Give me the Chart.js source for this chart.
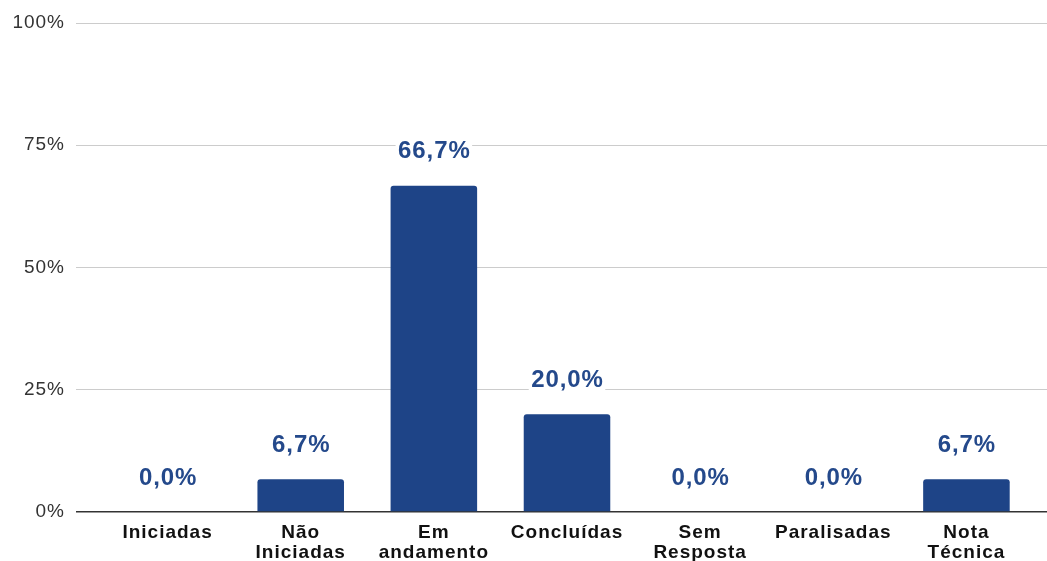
<!DOCTYPE html>
<html>
<head>
<meta charset="utf-8">
<script src="https://cdn.jsdelivr.net/npm/chart.js@4/dist/chart.umd.min.js"></script>
<style>
  html, body { margin: 0; padding: 0; background: #fff; }
  #wrap { width: 1047px; height: 561px; }
</style>
</head>
<body>
<div id="wrap"><canvas id="chart" width="1047" height="561"></canvas></div>
<script>
const categories = [
    ["Iniciadas"],
    ["Não", "Iniciadas"],
    ["Em", "andamento"],
    ["Concluídas"],
    ["Sem", "Resposta"],
    ["Paralisadas"],
    ["Nota", "Técnica"]
];
const percentages = [0.0, 6.7, 66.7, 20.0, 0.0, 0.0, 6.7];
const yTicks = [0, 25, 50, 75, 100];

const barColor = "#1e4487";
const labelColor = "#24498b";
const fontFamily = "'Liberation Sans', Arial, sans-serif";

// the reference text is set a bit wide, so spread the letters slightly
const spacing = {
    id: "spacing",
    beforeLayout(chart) { chart.ctx.letterSpacing = "1px"; },
    beforeDraw(chart) { chart.ctx.letterSpacing = "1px"; }
};

// value labels above each bar, with a white box so gridlines are hidden behind
const valueLabels = {
    id: "valueLabels",
    afterDatasetsDraw(chart) {
        const ctx = chart.ctx;
        const meta = chart.getDatasetMeta(0);
        ctx.save();
        ctx.letterSpacing = "0.9px";
        ctx.font = "bold 24px " + fontFamily;
        ctx.textAlign = "center";
        ctx.textBaseline = "middle";
        meta.data.forEach((bar, i) => {
            const text = percentages[i].toFixed(1).replace(".", ",") + "%";
            const y = bar.y - 34;
            const w = ctx.measureText(text).width;
            ctx.fillStyle = "#fff";
            ctx.fillRect(bar.x - w / 2 - 2, y - 12, w + 4, 24);
            ctx.fillStyle = labelColor;
            ctx.fillText(text, bar.x + 0.5, y);
        });
        ctx.restore();
    }
};

const ctx = document.getElementById("chart").getContext("2d");

const gridColor = c => (c.tick && c.tick.value === 0) ? "#333" : "#cccccc";
const gridWidth = c => (c.tick && c.tick.value === 0) ? 1.5 : 1;

new Chart(ctx, {
    type: "bar",
    data: {
        labels: categories,
        datasets: [{
            data: percentages,
            backgroundColor: barColor,
            barPercentage: 0.65,
            categoryPercentage: 1,
            borderRadius: { topLeft: 3, topRight: 3 },
            borderSkipped: "bottom"
        }]
    },
    options: {
        responsive: false,
        animation: false,
        layout: { padding: { top: 23, left: 0, right: 0, bottom: 0 } },
        plugins: {
            legend: { display: false },
            tooltip: { enabled: false }
        },
        scales: {
            x: {
                grid: { display: false },
                border: { display: false },
                ticks: {
                    color: "#111",
                    font: { family: fontFamily, size: 19, weight: "bold", lineHeight: 1.06 },
                    maxRotation: 0,
                    autoSkip: false,
                    padding: 3
                },
                afterFit(scale) { scale.height = 49; }
            },
            y: {
                min: 0,
                max: 100,
                afterBuildTicks(scale) { scale.ticks = yTicks.map(v => ({ value: v })); },
                grid: {
                    color: gridColor,
                    lineWidth: gridWidth,
                    tickLength: 25,
                    drawTicks: true
                },
                border: { display: false },
                ticks: {
                    color: "#333",
                    font: { family: fontFamily, size: 19 },
                    padding: 11,
                    callback: v => v + "%"
                },
                afterFit(scale) { scale.width = 101; }
            },
            y2: {
                position: "right",
                min: 0,
                max: 100,
                afterBuildTicks(scale) { scale.ticks = yTicks.map(v => ({ value: v })); },
                grid: {
                    drawOnChartArea: false,
                    color: gridColor,
                    lineWidth: gridWidth,
                    tickLength: 14
                },
                border: { display: false },
                ticks: { display: false },
                afterFit(scale) { scale.width = 14; }
            }
        }
    },
    plugins: [spacing, valueLabels]
});
</script>
</body>
</html>
